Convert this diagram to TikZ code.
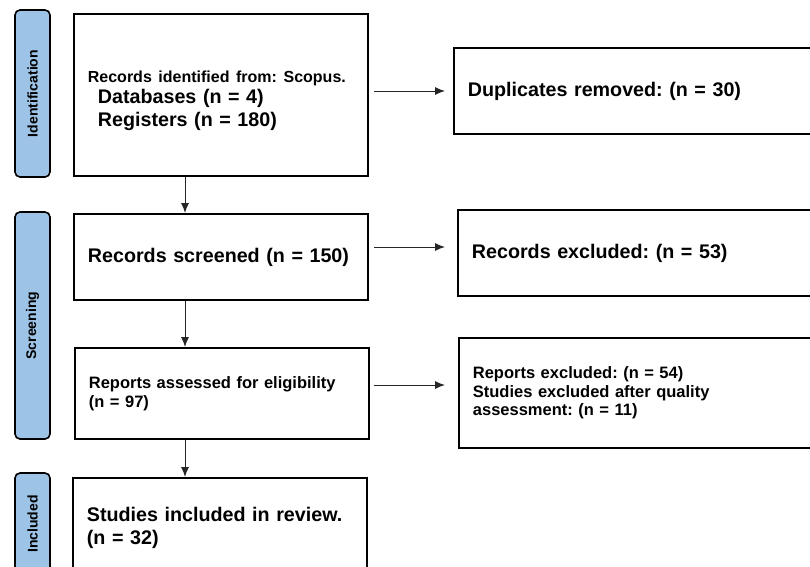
\documentclass[tikz,border=0pt]{standalone}
\usepackage{fontspec}
\setmainfont{Liberation Sans}
\usepackage{tikz}
\usetikzlibrary{calc}
\usetikzlibrary{arrows.meta}

\definecolor{phaseblue}{RGB}{157,195,230}
\frenchspacing

\begin{document}
\begin{tikzpicture}[x=1pt,y=-1pt]
  \tikzstyle{box}=[draw,line width=1.8pt,anchor=north west,align=left,inner xsep=14pt,inner ysep=0pt]
  \tikzstyle{small}=[font=\fontsize{16.5}{19}\selectfont\bfseries]
  \tikzstyle{large}=[font=\fontsize{19.7}{23}\selectfont\bfseries]
  \tikzstyle{phase}=[draw,line width=1.6pt,fill=phaseblue,rounded corners=5pt,rotate=90,minimum height=35pt,inner sep=0pt,font=\fontsize{14}{16}\selectfont\bfseries]
  \tikzstyle{arr}=[-{Latex[length=10pt,width=8pt]},draw=black!85,line width=1pt]

  \useasboundingbox (0,0) rectangle (810,566);
  \clip (0,0) rectangle (810,566);

  % phases
  \node[phase,minimum width=167pt] (idf) at (32.5,93.5)  {Identification};
  \node[phase,minimum width=227pt] (scr) at (32.5,325.5) {Screening};
  \node[phase,minimum width=102pt] (inc) at (32.5,524)   {Included};

  % main column
  \node[box,large,text width=266pt,minimum height=162pt] (ident)  at (73,13)  {{\fontsize{16}{19}\selectfont\rule{0pt}{24pt}Records identified from: Scopus.}\\[-2pt]\hspace*{10pt}Databases (n = 4)\\\hspace*{10pt}Registers (n = 180)};
  \node[box,large,text width=266pt,minimum height=86pt]  (screen) at (73,213) {Records screened (n = 150)};
  \node[box,small,text width=266pt,minimum height=91pt]  (assess) at (74,347) {Reports assessed for eligibility\\(n = 97)};
  \node[box,large,text width=266pt,minimum height=99pt]  (incl)   at (72,477) {Studies included in review.\\(n = 32)};

  % exclusions
  \node[box,large,text width=372pt,minimum height=86pt]  (dup)    at (453,47)  {Duplicates removed: (n = 30)};
  \node[box,large,text width=372pt,minimum height=86pt]  (recex)  at (457,209) {Records excluded: (n = 53)};
  \node[box,small,text width=372pt,minimum height=110pt,font=\fontsize{16.5}{18.5}\selectfont\bfseries] (repex) at (458,337) {Reports excluded: (n = 54)\\Studies excluded after quality\\assessment: (n = 11)};

  \coordinate (colx) at (185,0);
  \path (ident.south -| colx)  edge[arr] (screen.north -| colx)
        (screen.south -| colx) edge[arr] (assess.north -| colx)
        (assess.south -| colx) edge[arr] (incl.north -| colx);

  \path (ident.east |- 0,91)   edge[arr,shorten <=5pt,shorten >=8pt] (dup.west |- 0,91)
        (screen.east |- 0,247) edge[arr,shorten <=5pt,shorten >=12pt] (recex.west |- 0,247)
        (assess.east |- 0,385) edge[arr,shorten <=4pt,shorten >=13pt] (repex.west |- 0,385);

\end{tikzpicture}
\end{document}
